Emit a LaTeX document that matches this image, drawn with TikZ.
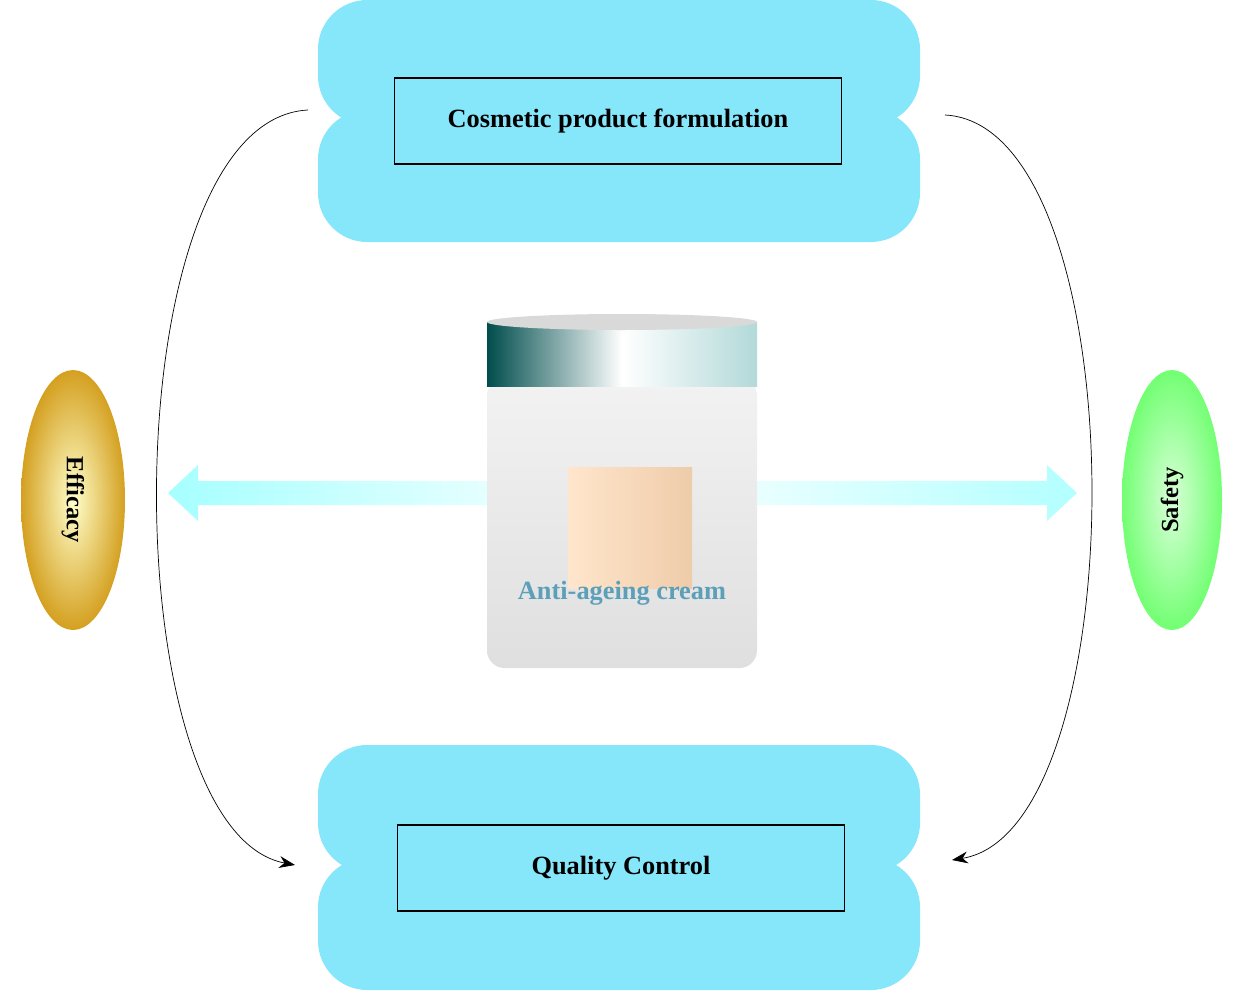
\documentclass[tikz,border=0pt]{standalone}
\usepackage{fontspec}
\setmainfont{Liberation Serif}
\usetikzlibrary{arrows.meta,shapes.geometric}
\definecolor{blobcyan}{HTML}{86E6FA}
\definecolor{labelteal}{HTML}{5C9FB8}
\definecolor{effgold}{HTML}{D4A020}
\tikzset{
  blob/.style={fill=blobcyan,draw=none,rounded corners=28pt},
  titlebox/.style={draw,thick,minimum width=8.94cm,minimum height=1.72cm,font=\bfseries\fontsize{15}{18}\selectfont},
  link/.style={-{Stealth[length=9pt]},thin}
}
\begin{document}
\begin{tikzpicture}[x=0.02cm,y=-0.02cm]
  \useasboundingbox (0,0) rectangle (1240,990);
  % top and bottom blobs
  \fill[blob] (318,0) rectangle (920,125);
  \fill[blob] (318,110) rectangle (920,242);
  \fill[blob] (318,745) rectangle (920,872);
  \fill[blob] (318,858) rectangle (920,990);
  \node[titlebox] (form) at (618,121) {Cosmetic product formulation};
  \node[titlebox] (qc) at (621,868) {Quality Control};
  % double arrow
  \shade[left color=cyan!35,right color=cyan!30,middle color=white]
    (168,493) -- (198,465) -- (198,481) -- (1047,481) -- (1047,465) -- (1077,493)
    -- (1047,521) -- (1047,505) -- (198,505) -- (198,521) -- cycle;
  % jar
  \shade[top color=gray!10,bottom color=gray!25,rounded corners=10pt]
    (487,378) rectangle (757,668);
  \shade[left color=teal!60!black,right color=teal!30,middle color=white]
    (487,322) rectangle (757,386);
  \fill[gray!30] (622,322) ellipse (135 and 8);
  \shade[left color=orange!20,right color=orange!35!brown!40] (568,467) rectangle (692,588);
  \node[text=labelteal,font=\bfseries\fontsize{15}{18}\selectfont] (cream) at (622,593) {Anti-ageing cream};
  % side ellipses
  \node[ellipse,minimum width=2.08cm,minimum height=5.2cm,inner sep=0pt,
    shade,inner color=yellow!20,outer color=effgold] (eff) at (73,500) {};
  \node[rotate=-90,font=\bfseries\fontsize{14}{16}\selectfont] at (eff) {Efficacy};
  \node[ellipse,minimum width=2.0cm,minimum height=5.2cm,inner sep=0pt,
    shade,inner color=green!15,outer color=green!55] (saf) at (1172,500) {};
  \node[rotate=90,font=\bfseries\fontsize{14}{16}\selectfont] at (saf) {Safety};
  % curved connectors
  \coordinate (ls) at (308,110);
  \coordinate (le) at (295,865);
  \coordinate (rs) at (945,115);
  \coordinate (re) at (952,860);
  \draw[link] (ls) .. controls (110,120) and (110,830) .. (le);
  \draw[link] (rs) .. controls (1138,125) and (1138,830) .. (re);
\end{tikzpicture}
\end{document}
